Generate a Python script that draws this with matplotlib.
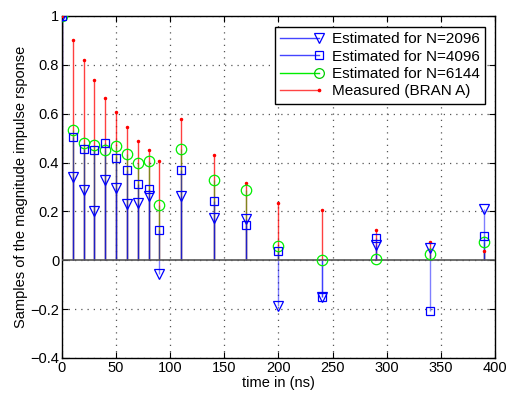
import matplotlib
matplotlib.use('Agg')
from matplotlib import pyplot as plt
from matplotlib.lines import Line2D
from matplotlib.legend_handler import HandlerBase

plt.rcParams['font.family'] = ['Liberation Sans', 'DejaVu Sans']

# sample times (ns)
times = [0, 10, 20, 30, 40, 50, 60, 70, 80, 90, 110, 140, 170, 200, 240, 290, 340, 390]

est_2096 = [1.0, 0.34, 0.287, 0.20, 0.328, 0.296, 0.23, 0.235, 0.262, -0.057,
            0.262, 0.172, 0.171, -0.187, -0.15, 0.061, 0.05, 0.208]
est_4096 = [1.0, 0.504, 0.455, 0.45, 0.482, 0.417, 0.369, 0.313, 0.291, 0.122,
            0.369, 0.243, 0.145, 0.04, -0.15, 0.093, -0.208, 0.098]
est_6144 = [1.0, 0.535, 0.482, 0.47, 0.45, 0.467, 0.436, 0.40, 0.407, 0.228,
            0.455, 0.328, 0.286, 0.059, 0.003, 0.005, 0.026, 0.074]
measured = [1.0, 0.90, 0.82, 0.74, 0.665, 0.608, 0.546, 0.49, 0.45, 0.405,
            0.58, 0.43, 0.318, 0.235, 0.205, 0.123, 0.073, 0.04]

labels = ['Estimated for N=2096', 'Estimated for N=4096',
          'Estimated for N=6144', 'Measured (BRAN A)']


class EndMarkerHandler(HandlerBase):
    # line with the marker at its right end, like MATLAB legends
    def create_artists(self, legend, orig_handle, xdescent, ydescent,
                       width, height, fontsize, trans):
        y = height / 2 - ydescent
        x0, x1 = -xdescent, width - xdescent - 3
        line = Line2D([x0, x1], [y, y], color=orig_handle.get_color(),
                      lw=orig_handle.get_linewidth(), transform=trans)
        mark = Line2D([x1], [y], ls='none', marker=orig_handle.get_marker(),
                      ms=orig_handle.get_markersize(), mfc=orig_handle.get_markerfacecolor(),
                      mec=orig_handle.get_markeredgecolor(), mew=orig_handle.get_markeredgewidth(),
                      transform=trans)
        return [line, mark]


fig = plt.figure(figsize=(5.09, 3.96), dpi=100)
ax = fig.add_axes([0.1218, 0.096, 0.8507, 0.8636])

ax.vlines(times, 0, measured, color='#ff0000', lw=1.0, alpha=0.75, zorder=2)
ax.vlines(times, 0, est_6144, color='#00cc00', lw=1.0, alpha=0.5, zorder=2)
ax.vlines(times, 0, est_4096, color='#0000ff', lw=1.0, alpha=0.5, zorder=2)
ax.vlines(times, 0, est_2096, color='#0000ff', lw=1.0, alpha=0.5, zorder=2)

ax.axhline(0, color='#555555', lw=1.2, zorder=3)

ax.plot(times, measured, ls='none', marker='.', ms=3, color='#ff0000', zorder=4)
ax.plot(times, est_6144, ls='none', marker='o', ms=7.5, mfc='none', mec='#00ee00', mew=0.9, zorder=5)
ax.plot(times, est_4096, ls='none', marker='s', ms=6, mfc='none', mec='#0000ff', mew=0.9, zorder=5)
ax.plot(times, est_2096, ls='none', marker='v', ms=7.5, mfc='none', mec='#0000ff', mew=0.9, zorder=5)

ax.set_xlim(0, 400)
ax.set_ylim(-0.4, 1.0)
ax.set_xticks(range(0, 401, 50))
ax.set_yticks([-0.4, -0.2, 0, 0.2, 0.4, 0.6, 0.8, 1.0])
ax.set_yticklabels(['\u22120.4', '\u22120.2', '0', '0.2', '0.4', '0.6', '0.8', '1'])
ax.tick_params(direction='in', top=True, right=True, labelsize=10.5, length=4, pad=2)
ax.grid(True, ls=(0, (1, 4)), color='#555555', lw=0.9)
for s in ax.spines.values():
    s.set_linewidth(1.0)

ax.set_xlabel('time in (ns)', fontsize=10.5, labelpad=1)
ax.set_ylabel('Samples of the magnitude impulse rsponse', fontsize=10.5, labelpad=2)

handles = [
    Line2D([], [], color='#4444ff', lw=1.0, marker='v', ms=7, mfc='none', mec='#0000ff', mew=0.9),
    Line2D([], [], color='#4444ff', lw=1.0, marker='s', ms=5.5, mfc='none', mec='#0000ff', mew=0.9),
    Line2D([], [], color='#00ee00', lw=1.0, marker='o', ms=7, mfc='none', mec='#00cc00', mew=0.9),
    Line2D([], [], color='#ff4444', lw=1.0, marker='.', ms=3.5, mfc='#ff0000', mec='#ff0000', mew=0.9),
]
leg = ax.legend(handles, labels, loc='upper right', bbox_to_anchor=(0.995, 0.99),
                fontsize=11, fancybox=False, framealpha=1, edgecolor='black',
                handlelength=2.8, handletextpad=0.6, borderpad=0.35, labelspacing=0.22,
                handler_map={Line2D: EndMarkerHandler()})
leg.get_frame().set_linewidth(1.0)

fig.savefig('out.png', dpi=100)
